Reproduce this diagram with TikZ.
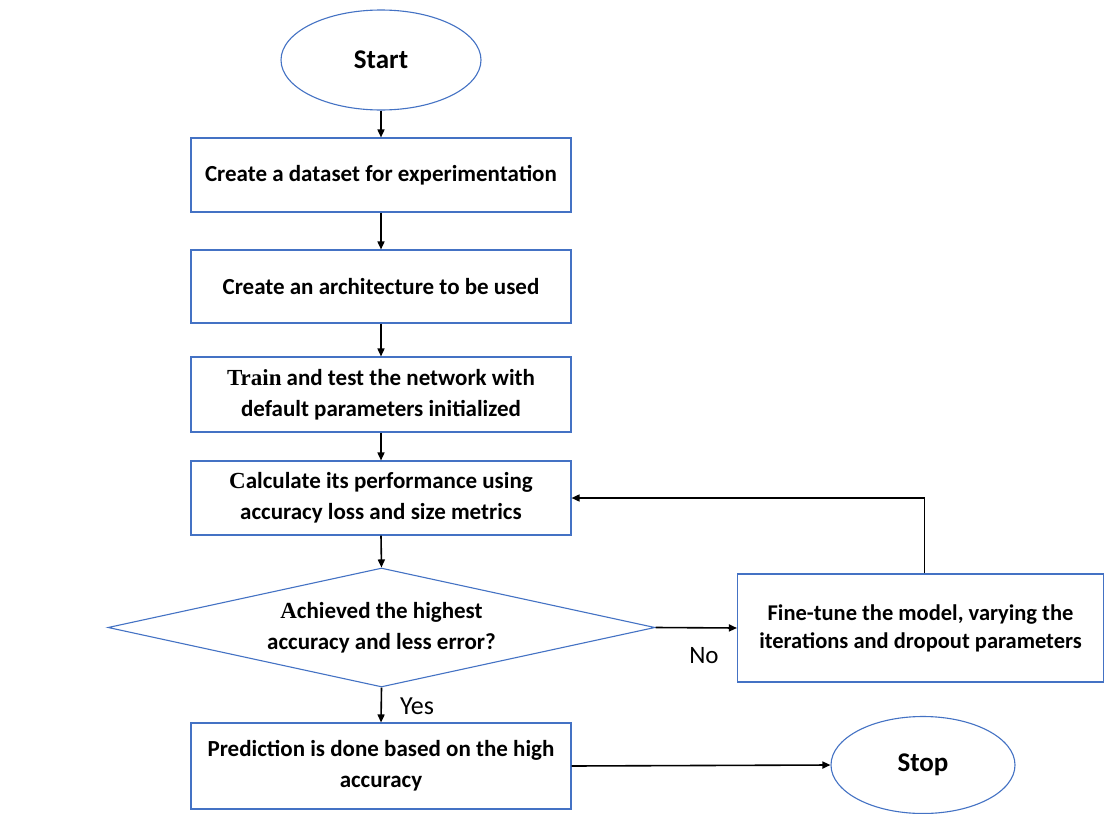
\documentclass[tikz,border=0pt]{standalone}
\usepackage{fontspec}
\setmainfont{Carlito}
\newfontfamily\serifpart{Liberation Serif}
\usetikzlibrary{shapes.geometric,arrows.meta}
\definecolor{boxblue}{HTML}{4472C4}
\begin{document}
\begin{tikzpicture}[x=1pt,y=-1pt,
  box/.style={draw=boxblue, line width=1.1pt, rectangle, minimum width=380pt,
    align=center, font=\bfseries\fontsize{23}{31}\selectfont, inner sep=0pt},
  term/.style={draw=boxblue, line width=1.1pt, ellipse, inner sep=0pt,
    font=\bfseries\fontsize{27}{30}\selectfont},
  decide/.style={draw=boxblue, line width=1.1pt, diamond, aspect=4.6, inner sep=0pt,
    minimum width=547pt, minimum height=119pt, align=center,
    font=\bfseries\fontsize{23}{31}\selectfont},
  flow/.style={draw=black, line width=1.6pt, -{Triangle[length=8pt,width=7pt]}},
  lbl/.style={font=\fontsize{25}{28}\selectfont, inner sep=0pt}
]
\useasboundingbox (0,0) rectangle (1104,814);
\fill[white] (0,0) rectangle (1104,814);

\node[term, minimum width=200pt, minimum height=100pt] (start) at (381,60) {Start};
\node[box, minimum height=74pt] (b1) at (381,175) {Create a dataset for experimentation};
\node[box, minimum height=73pt] (b2) at (381,286.5) {Create an architecture to be used};
\node[box, minimum height=75pt] (b3) at (381,394.5) {{\serifpart Train} and test the network with\\default parameters initialized};
\node[box, minimum height=74pt] (b4) at (381,498) {{\serifpart C}alculate its performance using\\accuracy loss and size metrics};
\node[decide] (dia) at (381.5,627.5) {{\serifpart A}chieved the highest\\accuracy and less error?};
\node[box, minimum width=366pt, minimum height=108pt, font=\bfseries\fontsize{22.5}{28}\selectfont] (ft) at (920.5,628) {Fine-tune the model, varying the\\iterations and dropout parameters};
\node[box, minimum height=86pt] (pred) at (381,766) {Prediction is done based on the high\\accuracy};
\node[term, minimum width=184pt, minimum height=97pt] (stop) at (923,765) {Stop};

\node[lbl] (no) at (704,656) {No};
\node[lbl, font=\fontsize{26}{28}\selectfont] (yes) at (417,706) {Yes};

\draw[flow] (start.south) -- (b1.north);
\draw[flow] (b1.south) -- (b2.north);
\draw[flow] (b2.south) -- (b3.north);
\draw[flow] (b3.south) -- (b4.north);
\draw[flow] (b4.south) -- (dia.north);
\draw[flow] (dia.east) -- (ft.west);
\draw[flow] ([xshift=4pt]ft.north) |- (b4.east);
\draw[flow] (dia.south) -- (pred.north);
\draw[flow] (pred.east) -- (stop.west);
\end{tikzpicture}
\end{document}
